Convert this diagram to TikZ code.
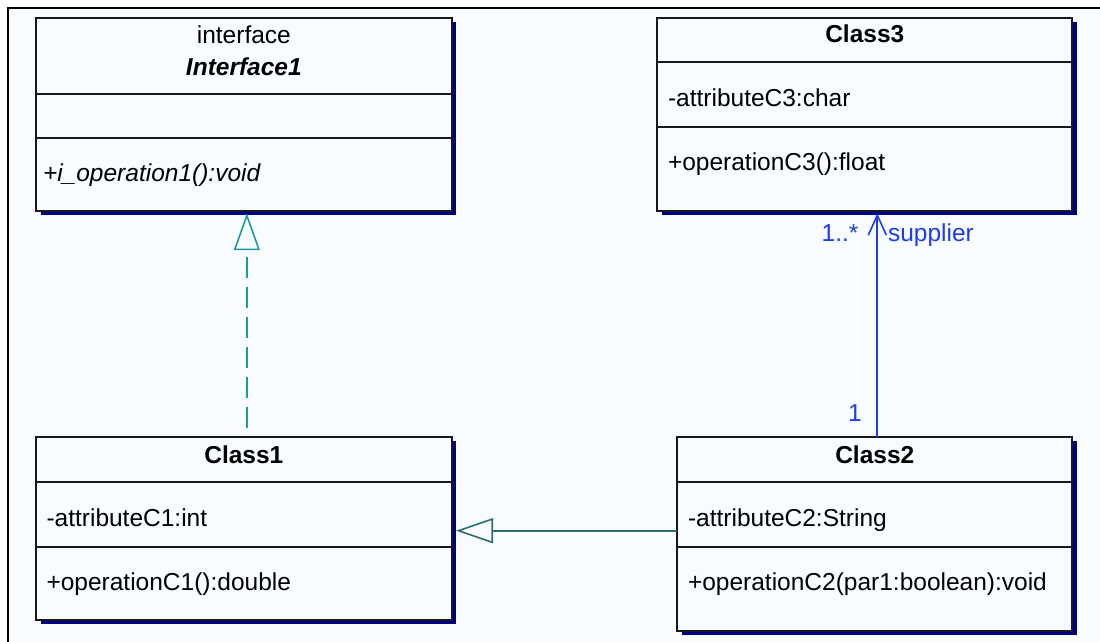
\documentclass[tikz,border=0pt]{standalone}
\usepackage{fontspec}
\setmainfont{Liberation Sans}
\usetikzlibrary{arrows.meta,shadows,calc}
\definecolor{bgcol}{RGB}{248,252,255}
\definecolor{boxline}{RGB}{25,25,25}
\definecolor{shadowcol}{RGB}{0,0,128}
\definecolor{realcol}{RGB}{30,155,155}
\definecolor{gencol}{RGB}{45,110,110}
\definecolor{assoccol}{RGB}{30,60,235}
\newcommand\umlfont{\fontsize{24.5}{29}\selectfont}
\begin{document}
\begin{tikzpicture}[x=1pt,y=-1pt,
  every node/.style={font=\umlfont, inner sep=0pt, outer sep=0pt},
  classbox/.style={draw=boxline, line width=1.8pt, fill=bgcol, rectangle, anchor=north west,
    drop shadow={shadow xshift=4.5pt, shadow yshift=-4pt, fill=shadowcol, opacity=1}},
  divider/.style={draw=boxline, line width=1.8pt},
  member/.style={anchor=base west, text=black},
  umltitle/.style={anchor=base, font=\umlfont\bfseries},
  mult/.style={anchor=base west, text=assoccol},
  realize/.style={draw=realcol, line width=1.8pt, dash pattern=on 21pt off 9pt, dash phase=21pt,
    -{Triangle[open, length=37pt, width=26pt, line width=1.6pt]}},
  generalize/.style={draw=gencol, line width=1.8pt,
    -{Triangle[open, length=37pt, width=25pt, line width=1.6pt]}},
  assoc/.style={draw=assoccol, line width=1.8pt,
    -{Straight Barb[length=20pt, width=18pt, line width=1.6pt]}}]
\useasboundingbox (0,0) rectangle (1100,642);
\fill[bgcol] (8,8) rectangle (1100,642);
\draw[line width=1.3pt, black] (8,642) -- (8,8) -- (1100,8);

% boxes
\node[classbox, minimum width=415.7pt, minimum height=192.4pt] (i1) at (36,18.3) {};
\node[classbox, minimum width=415pt, minimum height=192.4pt] (c3) at (657.3,18.3) {};
\node[classbox, minimum width=415.7pt, minimum height=183.3pt] (c1) at (36,436.7) {};
\node[classbox, minimum width=395pt, minimum height=194pt] (c2) at (677.3,436.7) {};

% dividers
\draw[divider] ($(i1.north west)+(0,76)$) -- ($(i1.north east)+(0,76)$);
\draw[divider] ($(i1.north west)+(0,120)$) -- ($(i1.north east)+(0,120)$);
\draw[divider] ($(c3.north west)+(0,44)$) -- ($(c3.north east)+(0,44)$);
\draw[divider] ($(c3.north west)+(0,108.4)$) -- ($(c3.north east)+(0,108.4)$);
\draw[divider] ($(c1.north west)+(0,45.6)$) -- ($(c1.north east)+(0,45.6)$);
\draw[divider] ($(c1.north west)+(0,110)$) -- ($(c1.north east)+(0,110)$);
\draw[divider] ($(c2.north west)+(0,45.6)$) -- ($(c2.north east)+(0,45.6)$);
\draw[divider] ($(c2.north west)+(0,110)$) -- ($(c2.north east)+(0,110)$);

% texts
\node[anchor=base] (i1s) at (243.85,43.3) {interface};
\node[umltitle, font=\umlfont\bfseries\itshape] (i1n) at (243.85,75) {Interface1};
\node[member, font=\umlfont\itshape] (i1o) at (43,181) {+i\_operation1():void};

\node[umltitle] (c3n) at (864.8,42.7) {Class3};
\node[member] (c3a) at (668,106) {-attributeC3:char};
\node[member] (c3o) at (668,170) {+operationC3():float};

\node[umltitle] (c1n) at (243.85,463.3) {Class1};
\node[member] (c1a) at (46.5,526) {-attributeC1:int};
\node[member] (c1o) at (46.5,590) {+operationC1():double};

\node[umltitle] (c2n) at (874.8,463.3) {Class2};
\node[member] (c2a) at (688,526) {-attributeC2:String};
\node[member] (c2o) at (688,590) {+operationC2(par1:boolean):void};

% connectors
\draw[realize] ($(c1.north)+(3,0)$) -- ($(c1.north |- i1.south)+(3,2.5)$);
\draw[generalize] ($(c2.west)+(0,-3)$) -- ($(c1.east |- c2.west)+(4.3,-3)$);
\draw[assoc] ($(c2.north)+(2.5,0)$) -- ($(c2.north |- c3.south)+(2.5,2.5)$);

% multiplicities
\node[mult] (m1) at (821.7,241.7) {1..*};
\node[mult] (m2) at (888,241.7) {supplier};
\node[mult] (m3) at (848,421.7) {1};
\end{tikzpicture}
\end{document}
